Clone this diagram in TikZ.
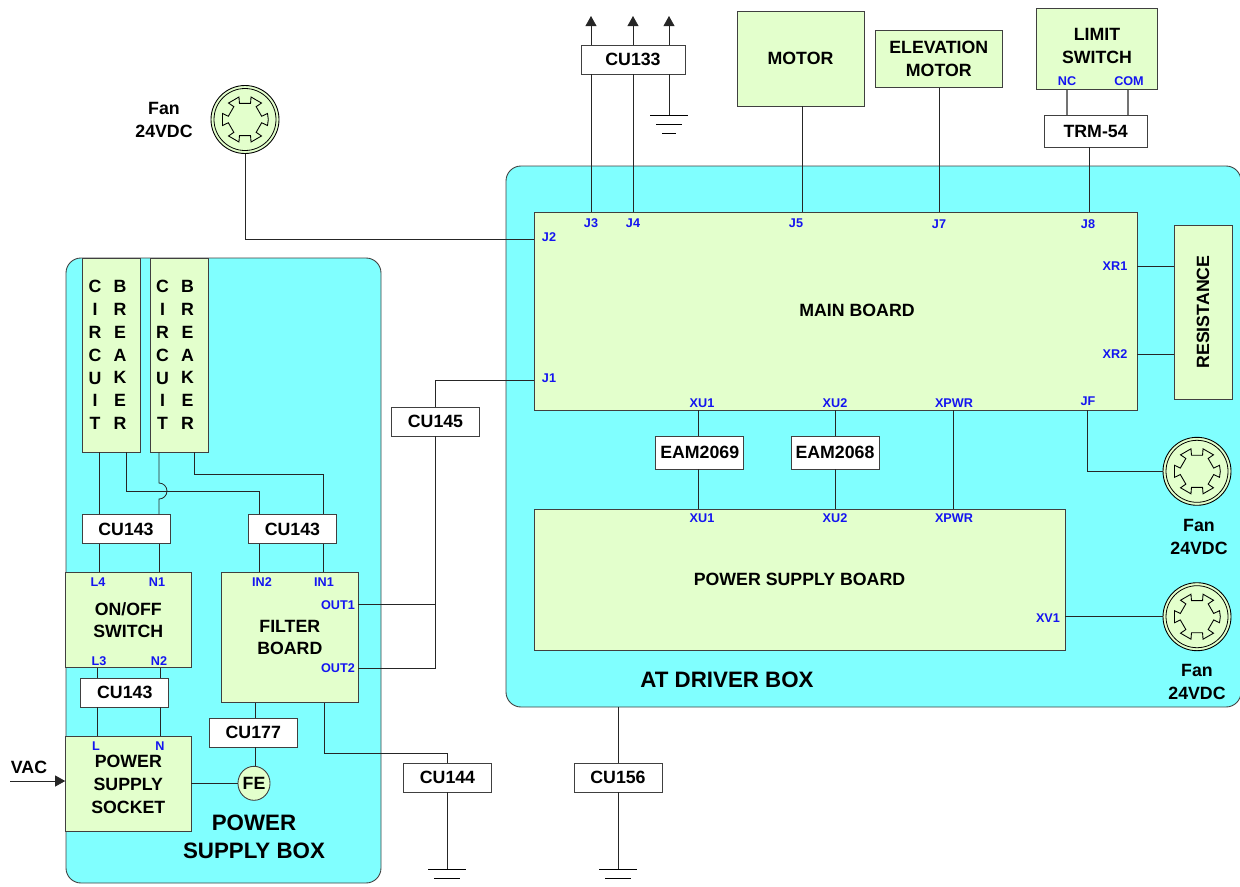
\documentclass[tikz,border=0pt]{standalone}
\usepackage{fontspec}
\setmainfont{Liberation Sans}
\usepackage{tikz}
\usetikzlibrary{arrows.meta,calc,positioning,shapes.geometric}
\definecolor{BoxCyan}{RGB}{128,255,255}
\definecolor{BoardGreen}{RGB}{227,255,204}
\definecolor{PinBlue}{RGB}{20,20,240}
\tikzset{
  txt/.style={font=\fontsize{10.1}{13}\selectfont\bfseries,align=center,inner sep=0pt},
  board/.style 2 args={draw=black!75,fill=BoardGreen,line width=0.5pt,txt,minimum width=#1*0.02cm,minimum height=#2*0.02cm},
  plug/.style={draw=black!75,fill=white,line width=0.5pt,txt,minimum width=88*0.02cm,minimum height=29*0.02cm},
  bigbox/.style 2 args={draw=black!75,fill=BoxCyan,line width=0.5pt,rounded corners=0.3cm,minimum width=#1*0.02cm,minimum height=#2*0.02cm},
  pin/.style={font=\fontsize{7.2}{9}\selectfont\bfseries,text=PinBlue,inner sep=0pt},
  boxtitle/.style={font=\fontsize{12.7}{16}\selectfont\bfseries,align=center,inner sep=0pt},
  fanbody/.style={circle,draw=black,fill=BoardGreen,line width=0.5pt,minimum size=68*0.02cm,inner sep=0pt},
  wire/.style={line width=0.45pt,draw=black!85},
  fanwheel/.pic={
    \draw[line width=0.45pt] (0,0) circle[radius=31];
    \draw[line width=0.5pt] (0:23.3)
      \foreach \k in {0,...,5} {
        -- ({\k*60+15}:23.3) -- ({\k*60+11}:17) -- ({\k*60+49}:17) -- ({\k*60+45}:23.3)
      } -- cycle;
  },
  earth/.pic={
    \draw[line width=0.5pt] (-19,0) -- (19,0);
    \draw[line width=0.5pt] (-13,9) -- (13,9);
    \draw[line width=0.5pt] (-7,18) -- (7,18);
  }
}
\begin{document}
\begin{tikzpicture}[x=0.02cm,y=-0.02cm,>={Triangle[length=5.7pt,width=6.2pt]}]
\useasboundingbox (0,0) rectangle (1240,886);
\node[bigbox={315}{625}] (pwrbox) at (223.5,570.5) {};
\node[bigbox={735}{541}] (driver) at (873.5,436.5) {};

\node[board={58}{194}] (brkA) at (111.7,355) {};
\node[board={58}{194}] (brkB) at (179.5,355) {};
\node[txt] at (95,355) {C\\I\\R\\C\\U\\I\\T};
\node[txt] at (120,355) {B\\R\\E\\A\\K\\E\\R};
\node[txt] at (162.5,355) {C\\I\\R\\C\\U\\I\\T};
\node[txt] at (187.5,355) {B\\R\\E\\A\\K\\E\\R};
\node[board={125.3}{95}] (switch) at (128.3,620.2) {ON/OFF\\SWITCH};
\node[board={136.3}{129.6}] (filter) at (289.8,637.5) {FILTER\\BOARD};
\node[board={125.3}{95}] (socket) at (128.3,784.2) {POWER\\SUPPLY\\SOCKET};
\node[ellipse,draw=black!75,fill=BoardGreen,line width=0.5pt,txt,minimum width=30*0.02cm,minimum height=34*0.02cm] (fe) at (254,783.3) {FE};

\node[plug] (cuA) at (126,529) {CU143};
\node[plug] (cuB) at (292.4,529) {CU143};
\node[plug] (cuC) at (124.8,692.5) {CU143};
\node[plug] (cuF) at (253.3,732.5) {CU177};
\node[plug] (cuG) at (447.5,777.5) {CU144};
\node[plug] (cuH) at (618,777.5) {CU156};
\node[plug] (cuJ) at (435.5,421.5) {CU145};
\node[plug,minimum width=104*0.02cm] (cuK) at (633,59.5) {CU133};
\node[plug,minimum width=103*0.02cm,minimum height=32*0.02cm] (trm) at (1095.6,131) {TRM-54};
\node[plug,minimum height=33*0.02cm] (eamA) at (699.7,452.5) {EAM2069};
\node[plug,minimum height=33*0.02cm] (eamB) at (835,452.5) {EAM2068};

\node[board={603}{198}] (main) at (835.5,311) {};
\node[txt] at (857,310) {MAIN BOARD};
\node[board={531}{141}] (psb) at (799.5,579.5) {POWER SUPPLY BOARD};
\node[board={58}{174}] (res) at (1203,312) {};
\node[txt,rotate=90] at (res) {RESISTANCE};
\node[board={127}{95}] (motor) at (800.5,58.5) {MOTOR};
\node[board={127}{57}] (elev) at (938.8,58.8) {ELEVATION\\MOTOR};
\node[board={121.7}{81}] (limit) at (1097,48.8) {};
\node[txt] at (1097,46) {LIMIT\\SWITCH};

\node[fanbody] (fanT) at (245,119.5) {};
\node[fanbody] (fanJ) at (1197,471.3) {};
\node[fanbody] (fanV) at (1197,616.7) {};
\pic at (fanT) {fanwheel};
\pic at (fanJ) {fanwheel};
\pic at (fanV) {fanwheel};
\node[txt] at (164,120) {Fan\\24VDC};
\node[txt] at (1199,537) {Fan\\24VDC};
\node[txt] at (1197,682) {Fan\\24VDC};

\node[boxtitle] at (727,680) {AT DRIVER BOX};
\node[boxtitle] at (254,837) {POWER\\SUPPLY BOX};
\node[txt] at (29,767) {VAC};

\foreach \pname/\px/\py in {L4/98/582,N1/157/582,IN2/262/582,IN1/324/582,OUT1/338/605,OUT2/338/668,L3/99/661,N2/159/661,L/96/746,N/160/746,J3/591/223,J4/633/223,J5/796/223,J7/939/224,J8/1088/224,J2/549/237,J1/549/378,XR1/1115/266,XR2/1115/354,JF/1088/401,XU1/702/403,XU2/835/403,XPWR/954/403,NC/1067/81,COM/1129/81,XV1/1048/618}
  \node[pin] at (\px,\py) {\pname};
\node[pin] at (702,518) {XU1};
\node[pin] at (835,518) {XU2};
\node[pin] at (954,518) {XPWR};

\foreach \wx/\wa/\wb in {99/brkA/cuA,99/cuA/switch,159/cuA/switch,259/cuB/filter,323/cuB/filter,97/switch/cuC,160/switch/cuC,97/cuC/socket,160/cuC/socket,255/filter/cuF,255/cuF/fe,618/driver/cuH,591/cuK/main,633/cuK/main,802/motor/main,939/elev/main,1089/trm/main,698/main/eamA,698/eamA/psb,835/main/eamB,835/eamB/psb,953/main/psb}
  \draw[wire] (\wx,0 |- \wa.south) -- (\wx,0 |- \wb.north);
\draw[wire,draw=black!55,line width=0.9pt] (1067,0 |- limit.south) -- (1067,0 |- trm.north);
\draw[wire,draw=black!55,line width=0.9pt] (1128,0 |- limit.south) -- (1128,0 |- trm.north);

\draw[wire] (126.7,0 |- brkA.south) |- (259,491) -- (259,0 |- cuB.north);
\draw[wire] (194.7,0 |- brkB.south) |- (323,474) -- (323,0 |- cuB.north);
\draw[wire] (159,0 |- brkB.south) -- (159,483) arc[start angle=-90,end angle=90,radius=8] -- (159,0 |- cuA.north);

\draw[wire] (fanT.south) |- (main.west |- 0,239);
\draw[wire] (cuJ.north) |- (main.west |- 0,380);
\draw[wire] (filter.east |- 0,604) -| (cuJ.south);
\draw[wire] (filter.east |- 0,668) -| (cuJ.south);
\draw[wire] (324,0 |- filter.south) |- (cuG.north |- 0,753) -- (cuG.north);
\draw[wire] (socket.east |- fe) -- (fe.west);
\draw[wire] (main.east |- 0,266) -- (res.west |- 0,266);
\draw[wire] (main.east |- 0,354) -- (res.west |- 0,354);
\draw[wire] (1087,0 |- main.south) |- (fanJ.west);
\draw[wire] (psb.east |- fanV) -- (fanV.west);

\coordinate (vacin) at (10,781);
\draw[wire,->] (vacin) -- (socket.west |- vacin);

\coordinate (upA) at (591,16);
\coordinate (upB) at (633,16);
\coordinate (upC) at (669,16);
\draw[wire,->] (591,0 |- cuK.north) -- (upA);
\draw[wire,->] (633,0 |- cuK.north) -- (upB);
\draw[wire,->] (669,0 |- cuK.north) -- (upC);

\coordinate (gndA) at (669,115);
\coordinate (gndB) at (447.3,869.7);
\coordinate (gndC) at (618.3,869.7);
\draw[wire] (669,0 |- cuK.south) -- (gndA);
\draw[wire] (gndB |- cuG.south) -- (gndB);
\draw[wire] (gndC |- cuH.south) -- (gndC);
\pic at (gndA) {earth};
\pic at (gndB) {earth};
\pic at (gndC) {earth};
\end{tikzpicture}
\end{document}
